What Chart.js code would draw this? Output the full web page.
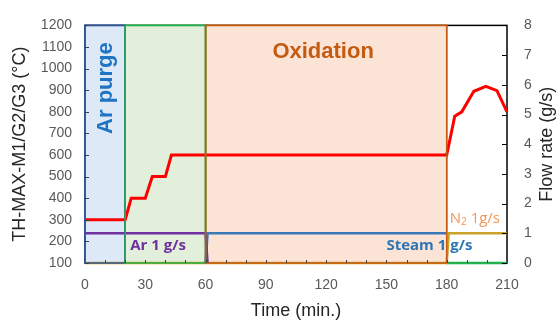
<!DOCTYPE html>
<html>
<head>
<meta charset="utf-8">
<script src="https://cdn.jsdelivr.net/npm/chart.js@4"></script>
<style>
  html, body { margin: 0; padding: 0; background: #fff; }
  #wrap { width: 557px; height: 327px; position: relative; }
</style>
</head>
<body>
<div id="wrap"><canvas id="chart"></canvas></div>
<script>
// Température (°C) en fonction du temps (min.)
var tempTime = [0, 20, 23, 30, 33.5, 40, 43, 180, 184, 187.5, 193.5, 199.5, 205, 210];
var tempValues = [300, 300, 400, 400, 500, 500, 600, 600, 780, 800, 895, 918, 898, 800];

// Débits (g/s)
var arTime = [0, 60, 61];
var arFlow = [1, 1, 0];
var steamTime = [60, 61, 180];
var steamFlow = [0, 1, 1];
var n2Time = [0, 180, 181, 210];
var n2Flow = [0, 0, 1, 1];
var auxTime = [180, 210];
var auxFlow = [0, 0];

// Phases (min.)
var phaseStart = [0, 20, 60];
var phaseEnd = [20, 60, 180];

// Graduations
var xTicks = [0, 30, 60, 90, 120, 150, 180, 210];
var tempTicks = [100, 200, 300, 400, 500, 600, 700, 800, 900, 1000, 1100, 1200];
var flowTicks = [0, 1, 2, 3, 4, 5, 6, 7, 8];

function pts(xs, ys) {
  return xs.map(function (x, i) { return { x: x, y: ys[i] }; });
}

var phaseFill = ['#dde9f6', '#e2efda', '#fbe4d6'];
var phaseStroke = ['#2f5597', '#22b14c', '#c55a11'];

function strokePhases(chart) {
  var c = chart.ctx, x = chart.scales.x, y = chart.scales.y;
  var top = y.getPixelForValue(1200), bot = y.getPixelForValue(100);
  for (var i = 0; i < phaseStart.length; i++) {
    var x0 = x.getPixelForValue(phaseStart[i]), x1 = x.getPixelForValue(phaseEnd[i]);
    c.strokeStyle = phaseStroke[i];
    c.lineWidth = 1.5;
    c.strokeRect(x0, top, x1 - x0, bot - top);
  }
}

var phasesPlugin = {
  id: 'phases',
  beforeDatasetsDraw: function (chart) {
    var c = chart.ctx, x = chart.scales.x, y = chart.scales.y;
    var top = y.getPixelForValue(1200), bot = y.getPixelForValue(100);
    c.save();
    // cadre
    c.strokeStyle = '#000';
    c.lineWidth = 1.5;
    c.strokeRect(x.left, top, x.right - x.left, bot - top);
    for (var i = 0; i < phaseStart.length; i++) {
      var x0 = x.getPixelForValue(phaseStart[i]), x1 = x.getPixelForValue(phaseEnd[i]);
      c.fillStyle = phaseFill[i];
      c.fillRect(x0, top, x1 - x0, bot - top);
    }
    strokePhases(chart);
    c.restore();
  },
  afterDatasetsDraw: function (chart) {
    var c = chart.ctx, x = chart.scales.x, y = chart.scales.y, y2 = chart.scales.y2;
    c.save();
    strokePhases(chart);
    // petites graduations intérieures
    c.strokeStyle = '#404040';
    c.lineWidth = 1;
    c.beginPath();
    for (var t = 10; t < 210; t += 10) {
      var px = Math.round(x.getPixelForValue(t)) + 0.5;
      c.moveTo(px, y.bottom); c.lineTo(px, y.bottom - 3);
    }
    tempTicks.forEach(function (v) {
      var py = Math.round(y.getPixelForValue(v)) + 0.5;
      c.moveTo(x.left, py); c.lineTo(x.left + 4, py);
    });
    c.stroke();
    c.strokeStyle = '#000';
    c.beginPath();
    flowTicks.forEach(function (v) {
      var py = Math.round(y2.getPixelForValue(v)) + 0.5;
      c.moveTo(x.right, py); c.lineTo(x.right - 5, py);
    });
    c.stroke();

    // annotations
    c.textBaseline = 'middle';
    c.textAlign = 'center';
    c.save();
    c.translate(x.getPixelForValue(10.5), y.getPixelForValue(910));
    c.rotate(-Math.PI / 2);
    c.fillStyle = '#1f74c4';
    c.font = 'bold 22px "Liberation Sans", Arial, sans-serif';
    c.fillText('Ar purge', 0, 0);
    c.restore();

    c.fillStyle = '#c55a11';
    c.font = 'bold 22px "Liberation Sans", Arial, sans-serif';
    c.fillText('Oxidation', x.getPixelForValue(118.5), y.getPixelForValue(1077));

    c.textAlign = 'left';
    c.fillStyle = '#7030a0';
    c.font = 'bold 15px "Open Sans", "Liberation Sans", sans-serif';
    c.fillText('Ar 1 g/s', x.getPixelForValue(22.5), y2.getPixelForValue(0.58));

    c.fillStyle = '#2e75b6';
    c.fillText('Steam 1 g/s', x.getPixelForValue(150), y2.getPixelForValue(0.58));

    c.fillStyle = '#f0965a';
    c.font = '15px "Open Sans", "Liberation Sans", sans-serif';
    var nx = x.getPixelForValue(181.5), ny = y2.getPixelForValue(1.5);
    c.fillText('N', nx, ny);
    var w = c.measureText('N').width;
    c.font = '10px "Open Sans", "Liberation Sans", sans-serif';
    c.fillText('2', nx + w, ny + 4);
    var w2 = c.measureText('2').width;
    c.font = '15px "Open Sans", "Liberation Sans", sans-serif';
    c.fillText(' 1g/s', nx + w + w2, ny);

    // titre de l'axe droit (lu de bas en haut)
    c.save();
    c.translate(547, (y2.top + y2.bottom) / 2);
    c.rotate(-Math.PI / 2);
    c.textAlign = 'center';
    c.fillStyle = '#262626';
    c.font = '18px "Liberation Sans", Arial, sans-serif';
    c.fillText('Flow rate (g/s)', 0, 0);
    c.restore();
    c.restore();
  }
};

var tickFont = { family: '"Liberation Sans", Arial, sans-serif', size: 14 };
var titleFont = { family: '"Liberation Sans", Arial, sans-serif', size: 18 };
function plain(v) { return String(v); }

var ctx = document.getElementById('chart').getContext('2d');
var chart = new Chart(ctx, {
  type: 'scatter',
  data: {
    datasets: [
      { label: 'TH-MAX', data: pts(tempTime, tempValues), yAxisID: 'y', showLine: true,
        borderColor: '#ff0000', borderWidth: 3, pointRadius: 0, clip: 6 },
      { label: 'Ar', data: pts(arTime, arFlow), yAxisID: 'y2', showLine: true,
        borderColor: '#7030a0', borderWidth: 2.5, pointRadius: 0, clip: 6 },
      { label: 'Steam', data: pts(steamTime, steamFlow), yAxisID: 'y2', showLine: true,
        borderColor: '#3b78b8', borderWidth: 2.5, pointRadius: 0, clip: 6 },
      { label: 'N2', data: pts(n2Time, n2Flow), yAxisID: 'y2', showLine: true,
        borderColor: '#c9a227', borderWidth: 2.5, pointRadius: 0, clip: 6 },
      { label: 'Aux', data: pts(auxTime, auxFlow), yAxisID: 'y2', showLine: true,
        borderColor: '#22b14c', borderWidth: 2.5, pointRadius: 0, clip: 6 }
    ]
  },
  options: {
    responsive: true,
    maintainAspectRatio: false,
    animation: false,
    layout: { padding: { top: 15, left: 0, right: 0, bottom: 0 } },
    plugins: { legend: { display: false }, tooltip: { enabled: false } },
    scales: {
      x: {
        type: 'linear', min: 0, max: 210,
        afterBuildTicks: function (s) { s.ticks = xTicks.map(function (v) { return { value: v }; }); },
        afterFit: function (s) { s.height = 64; },
        grid: { display: false, drawTicks: false },
        border: { display: false },
        ticks: { padding: 14, color: '#595959', font: tickFont, autoSkip: false, maxRotation: 0, callback: plain },
        title: { display: true, text: 'Time (min.)', color: '#262626', font: titleFont, padding: { top: 0, bottom: 5 } }
      },
      y: {
        position: 'left', min: 100, max: 1200,
        afterBuildTicks: function (s) { s.ticks = tempTicks.map(function (v) { return { value: v }; }); },
        afterFit: function (s) { s.width = 85; },
        grid: { display: false, drawTicks: false },
        border: { display: false },
        ticks: { padding: 13, color: '#595959', font: tickFont, autoSkip: false, callback: plain },
        title: { display: true, text: 'TH-MAX-M1/G2/G3 (°C)', color: '#262626', font: titleFont, padding: { top: 9, bottom: 0 } }
      },
      y2: {
        position: 'right', min: 0, max: 8,
        afterBuildTicks: function (s) { s.ticks = flowTicks.map(function (v) { return { value: v }; }); },
        afterFit: function (s) { s.width = 50; },
        grid: { display: false, drawTicks: false },
        border: { display: false },
        ticks: { padding: 17, color: '#595959', font: tickFont, autoSkip: false, callback: plain }
      }
    }
  },
  plugins: [phasesPlugin]
});
</script>
</body>
</html>
